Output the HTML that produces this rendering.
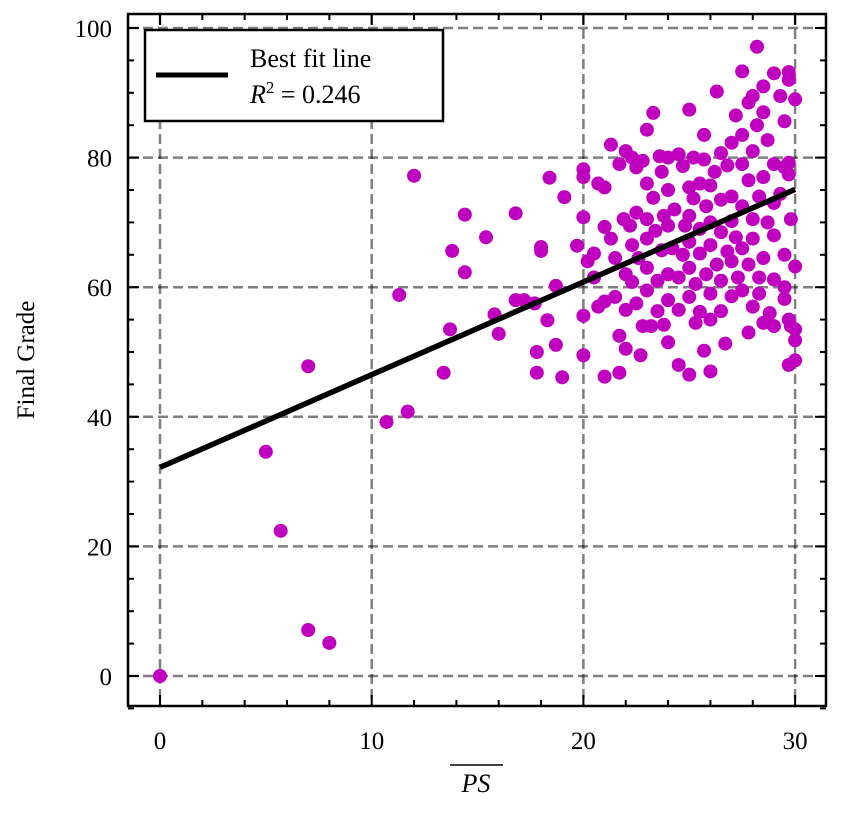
<!DOCTYPE html>
<html><head><meta charset="utf-8"><style>
body{margin:0;background:#fff;}
svg text{font-family:"Liberation Serif","DejaVu Serif",serif;fill:#000;}
</style></head><body>
<svg id="chart" width="841" height="813" xmlns="http://www.w3.org/2000/svg">
<g id="grid"></g>
<g id="dots"></g>
<g id="fit"></g>
<rect x="128" y="14" width="698" height="692" fill="none" stroke="#000" stroke-width="2.5"/>
<g id="ticks"></g>
<text x="476" y="792" font-size="26" font-style="italic" text-anchor="middle">PS</text>
<line x1="450" y1="765" x2="503" y2="765" stroke="#000" stroke-width="1.5"/>
<text transform="translate(34,360) rotate(-90)" font-size="25" text-anchor="middle">Final Grade</text>
<g>
<rect x="145" y="30" width="298" height="91" fill="#fff" stroke="#000" stroke-width="2.5"/>
<line x1="156" y1="75" x2="228" y2="75" stroke="#000" stroke-width="5"/>
<text x="250" y="67" font-size="26">Best fit line</text>
<text x="250" y="103" font-size="26"><tspan font-style="italic">R</tspan><tspan dy="-10" font-size="17">2</tspan><tspan dy="10"> = 0.246</tspan></text>
</g>
</svg>
<script>
const xTicks=[0,10,20,30];
const yTicks=[0,20,40,60,80,100];
const fitIntercept=32.2;
const fitSlope=1.43;
const xs=[0,5.0,5.7,7.0,8.0,7.0,10.7,11.7,11.3,12.0,13.4,13.7,13.8,14.4,14.4,15.4,16.0,15.8,16.8,16.8,17.2,17.8,17.8,17.7,18,18,18.3,18.4,18.7,18.7,19,19.1,19.7,
20,20,20,20,20,20.2,20.5,20.5,20.7,20.7,21,21,21,21,21.3,21.3,21.5,21.5,21.7,21.7,21.7,21.9,22,22,22,22,22.2,22.3,22.3,22.3,22.5,22.5,22.5,22.6,22.7,22.8,22.8,23,23,23,23,23,23,23.2,23.3,23.3,23.4,23.5,23.5,23.6,23.7,23.7,23.8,23.8,24,24,24,24,24,24,24.2,24.3,24.5,24.5,24.5,24.5,24.7,24.7,24.8,25,25,25,25,25,25,25,25.2,25.2,25.3,25.3,25.5,25.5,25.5,25.5,25.7,25.7,25.7,25.8,25.8,26,26,26,26,26,26,26.2,26.3,26.3,26.5,26.5,26.5,26.5,26.5,26.7,26.8,26.8,27,27,27,27,27,27.2,27.2,27.3,27.5,27.5,27.5,27.5,27.5,27.5,27.8,27.8,27.8,27.8,28,28,28,28,28,28.2,28.2,28.3,28.3,28.3,28.5,28.5,28.5,28.5,28.5,28.7,28.7,28.8,29,29,29,29,29,29,29.3,29.3,29.5,29.5,29.5,29.5,29.5,29.7,29.7,29.7,29.7,29.7,29.7,29.8,30,30,30,30,30,29.8];
const ys=[0,34.6,22.4,7.1,5.1,47.8,39.2,40.8,58.8,77.2,46.8,53.5,65.6,62.3,71.2,67.7,52.8,55.8,71.4,58,58,46.8,50,57.5,65.6,66.2,54.9,76.9,60.2,51.1,46.1,73.9,66.4,
78.2,77,70.8,55.6,49.5,64,65.2,61.5,57,76,75.4,69.3,57.8,46.2,82,67.5,64.5,58.5,79,52.5,46.8,70.5,81,62,56.5,50.5,69.5,80,66.5,60.8,78.5,71.5,57.5,64.5,49.5,54,79.5,84.3,76,70.5,67.5,63,59.5,54,86.9,73.8,68.7,61,56.3,80.2,77.8,65.7,71,54.2,80,75,69.5,62,58,51.5,66,72,80.5,61.5,56.5,48,65,78.7,69.5,87.4,75.4,71,67,63,58.5,46.5,80,73.7,60.5,54.5,76,69,65.2,56.2,83.5,79.7,50.2,72.5,62,75.7,70,66.5,59,55,47,77.8,63.5,90.2,80.7,73.5,68.5,61,56.3,51.3,78.8,65.5,82.3,74,70.2,64,58.6,86.5,67.7,61.5,93.3,83.5,79,72.5,66,59.5,88.5,76.5,63.5,53,89.5,81,70.5,67.5,57,97.1,85,74,61.5,59,91,87,77,64.5,54.5,82.7,70,56,93,79,73,68,61.2,54,89.5,74.4,85.6,78.5,65,60,58.2,93.2,92,79.2,77.4,55,48,70.5,89,63.2,53.5,51.8,48.7,54];
const NS="http://www.w3.org/2000/svg";
function X(v){return 160+v*21.17;}
function Y(v){return 676-v*6.48;}
function mk(tag,attrs,parent){const e=document.createElementNS(NS,tag);for(const k in attrs)e.setAttribute(k,attrs[k]);parent.appendChild(e);return e;}
const grid=document.getElementById('grid'),ticks=document.getElementById('ticks'),dots=document.getElementById('dots'),fit=document.getElementById('fit');
xTicks.forEach(t=>{
  const g=mk('line',{x1:X(t),x2:X(t),y1:14,y2:706,stroke:'rgba(0,0,0,0.5)','stroke-width':2.5,'stroke-dasharray':'10,5'},grid);
  
  
  const l=mk('text',{x:X(t),y:749,'font-size':25,'text-anchor':'middle'},ticks);l.textContent=t;
  
  
});
yTicks.forEach(t=>{
  const g=mk('line',{x1:128,x2:826,y1:Y(t),y2:Y(t),stroke:'rgba(0,0,0,0.5)','stroke-width':2.5,'stroke-dasharray':'10,5'},grid);
  
  
  const l=mk('text',{x:112,y:Y(t)+9,'font-size':25,'text-anchor':'end'},ticks);l.textContent=t;
  
  
});
for(let v=0;v<=31;v+=2){const big=v%10===0;const L=big?11:6;
  mk('line',{x1:X(v),x2:X(v),y1:706,y2:706-L,stroke:'#000','stroke-width':2},ticks);
  mk('line',{x1:X(v),x2:X(v),y1:14,y2:14+L,stroke:'#000','stroke-width':2},ticks);}
for(let v=-5;v<=100;v+=5){const big=v%20===0;const L=big?11:6;
  mk('line',{x1:128,x2:128+L,y1:Y(v),y2:Y(v),stroke:'#000','stroke-width':2},ticks);
  mk('line',{x1:826,x2:826-L,y1:Y(v),y2:Y(v),stroke:'#000','stroke-width':2},ticks);}
xs.forEach((x,i)=>{
  const c=mk('circle',{cx:X(x),cy:Y(ys[i]),r:7,fill:'#bf00bf'},dots);
  
  
});
const fl=mk('line',{x1:X(0),y1:Y(fitIntercept),x2:X(30),y2:Y(fitIntercept+fitSlope*30),stroke:'#000','stroke-width':5.5},fit);


</script>
</body></html>
